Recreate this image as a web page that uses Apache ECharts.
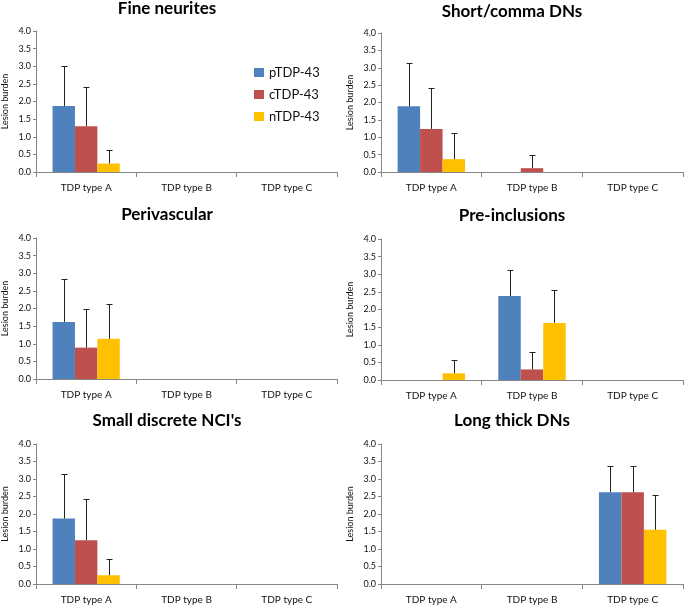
<!DOCTYPE html>
<html>
<head>
<meta charset="utf-8">
<script src="https://cdn.jsdelivr.net/npm/echarts@6/dist/echarts.min.js"></script>
<style>
  html, body { margin: 0; padding: 0; background: #fff; }
  #chart { width: 685px; height: 607px; }
</style>
</head>
<body>
<div id="chart"></div>
<script>
// categories + tick labels
const categories = ['TDP type A', 'TDP type B', 'TDP type C']
const seriesNames = ['pTDP-43', 'cTDP-43', 'nTDP-43']
const yTicks = [0, 0.5, 1.0, 1.5, 2.0, 2.5, 3.0, 3.5, 4.0]

// means per panel (p, c, n) and the top of each error bar
const fineP = [1.87, 0, 0]
const fineC = [1.30, 0, 0]
const fineN = [0.24, 0, 0]
const fineTopP = [3.00, 0, 0]
const fineTopC = [2.42, 0, 0]
const fineTopN = [0.63, 0, 0]

const shortP = [1.89, 0, 0]
const shortC = [1.24, 0.11, 0]
const shortN = [0.37, 0, 0]
const shortTopP = [3.13, 0, 0]
const shortTopC = [2.42, 0.48, 0]
const shortTopN = [1.13, 0, 0]

const periP = [1.62, 0, 0]
const periC = [0.89, 0, 0]
const periN = [1.14, 0, 0]
const periTopP = [2.83, 0, 0]
const periTopC = [2.00, 0, 0]
const periTopN = [2.13, 0, 0]

const preP = [0, 2.38, 0]
const preC = [0, 0.30, 0]
const preN = [0.19, 1.62, 0]
const preTopP = [0, 3.13, 0]
const preTopC = [0, 0.79, 0]
const preTopN = [0.58, 2.56, 0]

const nciP = [1.87, 0, 0]
const nciC = [1.25, 0, 0]
const nciN = [0.25, 0, 0]
const nciTopP = [3.13, 0, 0]
const nciTopC = [2.42, 0, 0]
const nciTopN = [0.71, 0, 0]

const longP = [0, 0, 2.62]
const longC = [0, 0, 2.62]
const longN = [0, 0, 1.55]
const longTopP = [0, 0, 3.38]
const longTopC = [0, 0, 3.38]
const longTopN = [0, 0, 2.55]

const colors = ['#4F81BD', '#C0504D', '#FFC000']
const font = 'Lato, "Open Sans", sans-serif'
const axisGray = '#868686'
const textColor = '#111'

// layout of the six small charts
const panels = [
  { title: 'Fine neurites', tx: 167, ty: 0, left: 36, top: 31, width: 301, height: 141,
    means: [fineP, fineC, fineN], tops: [fineTopP, fineTopC, fineTopN] },
  { title: 'Short/comma DNs', tx: 512, ty: 3, left: 381, top: 33, width: 302, height: 139,
    means: [shortP, shortC, shortN], tops: [shortTopP, shortTopC, shortTopN] },
  { title: 'Perivascular', tx: 167, ty: 206, left: 36, top: 238, width: 301, height: 141,
    means: [periP, periC, periN], tops: [periTopP, periTopC, periTopN] },
  { title: 'Pre-inclusions', tx: 512, ty: 207, left: 381, top: 239, width: 302, height: 141,
    means: [preP, preC, preN], tops: [preTopP, preTopC, preTopN] },
  { title: "Small discrete NCI's", tx: 167, ty: 412, left: 36, top: 444, width: 301, height: 140,
    means: [nciP, nciC, nciN], tops: [nciTopP, nciTopC, nciTopN] },
  { title: 'Long thick DNs', tx: 512, ty: 412, left: 381, top: 444, width: 302, height: 140,
    means: [longP, longC, longN], tops: [longTopP, longTopC, longTopN] }
]

const chart = echarts.init(document.getElementById('chart'))

// upward error bar with a small cap
function renderErr (params, api) {
  const cat = api.value(0)
  const top = api.value(1)
  const mean = api.value(2)
  const k = api.value(3)
  if (!(top > mean)) return
  const band = api.size([1, 0])[0]
  const bw = band * 0.67 / 3
  const a = api.coord([cat, mean])
  const b = api.coord([cat, top])
  const x = Math.round(a[0] + (k - 1) * bw) + 0.5
  const yb = Math.round(b[1]) + 0.5
  const style = { stroke: '#222', lineWidth: 1 }
  return {
    type: 'group',
    children: [
      { type: 'line', shape: { x1: x, y1: a[1], x2: x, y2: yb }, style },
      { type: 'line', shape: { x1: x - 3, y1: yb, x2: x + 3, y2: yb }, style }
    ]
  }
}

const title = []
const grid = []
const xAxis = []
const yAxis = []
const series = []

panels.forEach((p, i) => {
  title.push({
    text: p.title, left: p.tx, top: p.ty, textAlign: 'center', padding: 0,
    textStyle: { fontFamily: font, fontSize: 17, fontWeight: 'bold', color: '#000' }
  })
  grid.push({ left: p.left, top: p.top, width: p.width, height: p.height })
  xAxis.push({
    type: 'category', gridIndex: i, data: categories,
    axisLine: { lineStyle: { color: axisGray } },
    axisTick: { show: true, length: 5, lineStyle: { color: axisGray } },
    axisLabel: { fontFamily: font, fontSize: 10, color: textColor, margin: 11 }
  })
  yAxis.push({
    type: 'value', gridIndex: i, min: 0, max: 4, interval: 0.5,
    name: 'Lesion burden', nameLocation: 'middle', nameGap: 26, nameRotate: 90,
    nameTextStyle: { fontFamily: font, fontSize: 9, color: textColor },
    splitLine: { show: false },
    axisLine: { show: true, lineStyle: { color: axisGray } },
    axisTick: { show: true, length: 3, lineStyle: { color: axisGray } },
    axisLabel: {
      fontFamily: font, fontSize: 9, color: textColor, margin: 5,
      formatter: v => yTicks.includes(v) ? v.toFixed(1) : ''
    }
  })
  p.means.forEach((vals, k) => {
    series.push({
      name: seriesNames[k], type: 'bar', xAxisIndex: i, yAxisIndex: i,
      data: vals, barGap: '0%', barCategoryGap: '33%',
      itemStyle: { color: colors[k] }, animation: false
    })
  })
  const errData = []
  p.tops.forEach((tops, k) => {
    tops.forEach((t, c) => errData.push([c, t, p.means[k][c], k]))
  })
  series.push({
    type: 'custom', xAxisIndex: i, yAxisIndex: i, renderItem: renderErr,
    data: errData, encode: { x: 0, y: 1 }, z: 5, animation: false, silent: true
  })
})

chart.setOption({
  backgroundColor: '#fff',
  animation: false,
  title,
  legend: {
    data: seriesNames, orient: 'vertical', left: 249, top: 61, itemGap: 9,
    itemWidth: 10, itemHeight: 9, icon: 'rect',
    textStyle: { fontFamily: font, fontSize: 13, color: textColor }
  },
  grid,
  xAxis,
  yAxis,
  series
})
</script>
</body>
</html>
